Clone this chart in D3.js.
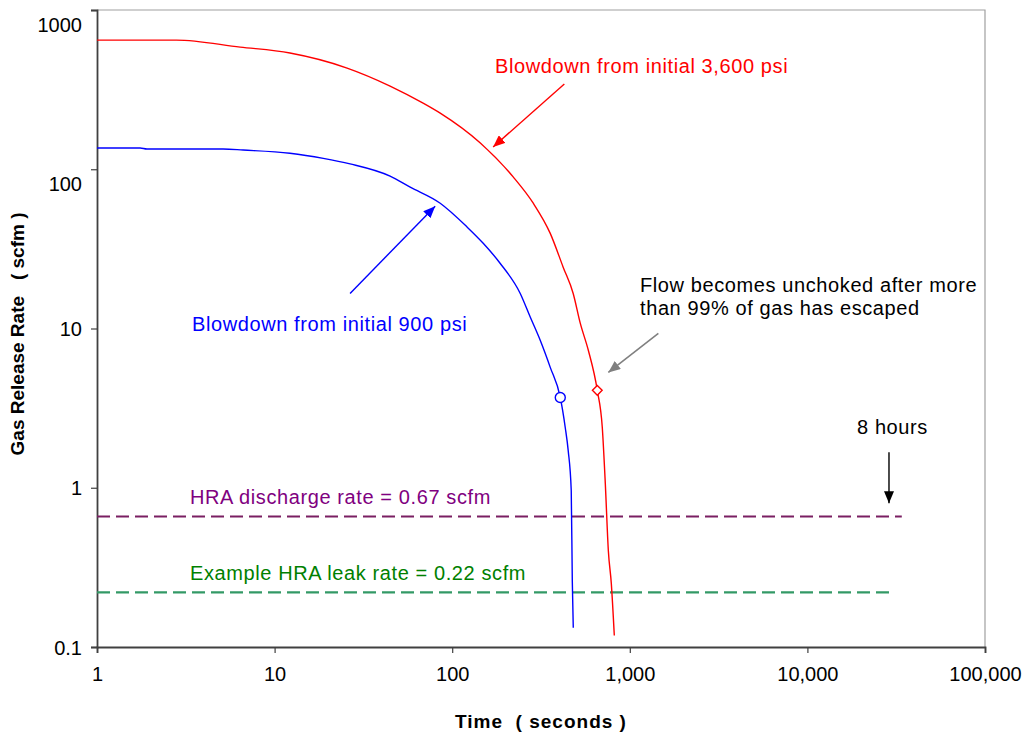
<!DOCTYPE html>
<html>
<head>
<meta charset="utf-8">
<script src="https://cdn.jsdelivr.net/npm/d3@7"></script>
<style>
  body { margin: 0; background: #fff; }
  svg { display: block; font-family: "Liberation Sans", Arial, sans-serif; }
</style>
</head>
<body>
<svg id="chart" width="1030" height="734"></svg>
<script>
// blowdown curves: time (s) and rate (scfm)
var redTime = [1, 2.8, 6.4, 12.2, 25.6, 44.7, 68.6, 85.6, 144, 221, 286, 356, 422, 480, 526, 584, 656, 700, 728, 757, 787, 818];
var redRate = [647, 647, 585, 537, 432, 333, 260, 225, 146, 89.2, 61.2, 39.7, 24.2, 16.6, 10.8, 7.3, 4.09, 2.39, 1.06, 0.404, 0.25, 0.118];

var blueTime = [1, 1.75, 1.91, 5.13, 6.65, 12.2, 18.8, 26.6, 44.7, 58, 85.6, 121.5, 149.5, 186, 241.6, 275, 313, 356.5, 406, 433, 450, 468, 474.5, 480.5];
var blueRate = [136, 136, 134, 134, 132, 126, 117, 108, 90.5, 77.2, 61.2, 43.3, 34.3, 25.7, 16.6, 11.8, 8.43, 5.7, 3.69, 2.39, 1.71, 0.96, 0.26, 0.132];

// points where flow becomes unchoked
var blueMarker = [406, 3.69];
var redMarker = [656, 4.09];

// reference rates (scfm) and the 8 hour mark (s)
var hraDischarge = 0.66;
var hraLeak = 0.22;
var eightHours = 28800;
var dischargeEnd = 34000;

var xTicks = [1, 10, 100, 1000, 10000, 100000];
var xTickLabels = ["1", "10", "100", "1,000", "10,000", "100,000"];
var yTicks = [0.1, 1, 10, 100, 1000];
var yTickLabels = ["0.1", "1", "10", "100", "1000"];

var svg = d3.select("#chart");
var mLeft = 97, mRight = 985, mTop = 10, mBottom = 647;

var x = d3.scaleLog().domain([1, 100000]).range([mLeft, mRight]);
var y = d3.scaleLog().domain([0.1, 1000]).range([mBottom, mTop]);

// arrow heads
var defs = svg.append("defs");
[["red", "#ff0000"], ["blue", "#0000ff"], ["gray", "#808080"], ["black", "#000000"]].forEach(function (c) {
  defs.append("marker")
    .attr("id", "arrow-" + c[0])
    .attr("viewBox", "0 0 12 10")
    .attr("refX", 12).attr("refY", 5)
    .attr("markerWidth", 12).attr("markerHeight", 10)
    .attr("markerUnits", "userSpaceOnUse")
    .attr("orient", "auto")
    .append("path")
    .attr("d", "M0,0 L12,5 L0,10 Z")
    .attr("fill", c[1]);
});

// frame: light top and right edges
svg.append("path")
  .attr("d", "M" + mLeft + "," + mTop + "H" + mRight + "V" + mBottom)
  .attr("fill", "none")
  .attr("stroke", "#a0a0a0")
  .attr("stroke-width", 1.2);

// axes
var xAxis = svg.append("g")
  .attr("transform", "translate(0," + mBottom + ")")
  .call(d3.axisBottom(x).tickValues(xTicks).tickSize(6).tickPadding(14)
    .tickFormat(function (d, i) { return xTickLabels[i]; }));

var yAxis = svg.append("g")
  .attr("transform", "translate(" + mLeft + ",0)")
  .call(d3.axisLeft(y).tickValues(yTicks).tickSize(6).tickPadding(9)
    .tickFormat(function (d, i) { return yTickLabels[i]; }));

[xAxis, yAxis].forEach(function (g) {
  g.select(".domain").attr("stroke", "#404040").attr("stroke-width", 1.8);
  g.selectAll(".tick line").attr("stroke", "#404040").attr("stroke-width", 1.2);
  g.selectAll(".tick text")
    .attr("fill", "#000")
    .style("font-family", "'Liberation Sans', Arial, sans-serif")
    .style("font-size", "20px");
});
// the two upper labels sit a little below their ticks in the original
yAxis.selectAll(".tick text").attr("dy", function (d) { return d >= 100 ? "1.05em" : "0.35em"; });

// axis titles
svg.append("text")
  .attr("x", 541).attr("y", 728)
  .attr("text-anchor", "middle")
  .style("font-weight", "bold")
  .style("font-size", "19px")
  .style("letter-spacing", "1px")
  .attr("xml:space", "preserve")
  .text("Time  ( seconds )");

svg.append("text")
  .attr("transform", "translate(24,334)rotate(-90)")
  .attr("text-anchor", "middle")
  .style("font-weight", "bold")
  .style("font-size", "19px")
  .attr("xml:space", "preserve")
  .text("Gas Release Rate   ( scfm )");

// reference lines
svg.append("line")
  .attr("x1", x(1)).attr("x2", x(dischargeEnd))
  .attr("y1", y(hraDischarge)).attr("y2", y(hraDischarge))
  .attr("stroke", "#7a1f62").attr("stroke-width", 2.2)
  .attr("stroke-dasharray", "13,6");

svg.append("line")
  .attr("x1", x(1)).attr("x2", x(eightHours))
  .attr("y1", y(hraLeak)).attr("y2", y(hraLeak))
  .attr("stroke", "#339966").attr("stroke-width", 2.2)
  .attr("stroke-dasharray", "13,6");

// curves
var line = d3.line()
  .curve(d3.curveMonotoneX)
  .x(function (d) { return x(d[0]); })
  .y(function (d) { return y(d[1]); });

svg.append("path")
  .datum(d3.zip(redTime, redRate))
  .attr("d", line)
  .attr("fill", "none")
  .attr("stroke", "#ff0000")
  .attr("stroke-width", 1.4);

svg.append("path")
  .datum(d3.zip(blueTime, blueRate))
  .attr("d", line)
  .attr("fill", "none")
  .attr("stroke", "#0000ff")
  .attr("stroke-width", 1.4);

// markers
svg.append("circle")
  .attr("cx", x(blueMarker[0])).attr("cy", y(blueMarker[1]))
  .attr("r", 5)
  .attr("fill", "#fff").attr("stroke", "#0000ff").attr("stroke-width", 1.4);

svg.append("path")
  .attr("transform", "translate(" + x(redMarker[0]) + "," + y(redMarker[1]) + ")")
  .attr("d", d3.symbol().type(d3.symbolDiamond2).size(60))
  .attr("fill", "#fff").attr("stroke", "#ff0000").attr("stroke-width", 1.4);

// annotation arrows [from time, from rate, to time, to rate]
var arrows = [
  { c: "red", p: [428, 343, 170, 138] },
  { c: "blue", p: [26.6, 16.6, 80.2, 58.6] },
  { c: "gray", p: [1448, 9.33, 757, 5.3] },
  { c: "black", p: [eightHours, 1.67, eightHours, 0.8] }
];
var arrowColor = { red: "#ff0000", blue: "#0000ff", gray: "#808080", black: "#000000" };
arrows.forEach(function (a) {
  svg.append("line")
    .attr("x1", x(a.p[0])).attr("y1", y(a.p[1]))
    .attr("x2", x(a.p[2])).attr("y2", y(a.p[3]))
    .attr("stroke", arrowColor[a.c])
    .attr("stroke-width", a.c === "gray" ? 1.6 : 1.4)
    .attr("marker-end", "url(#arrow-" + a.c + ")");
});

// annotation texts
var notes = [
  { t: "Blowdown from initial 3,600 psi", x: 495, y: 73, c: "#ff0000" },
  { t: "Blowdown from initial 900 psi", x: 192, y: 331, c: "#0000ff" },
  { t: "HRA discharge rate = 0.67 scfm", x: 190, y: 504, c: "#800080" },
  { t: "Example HRA leak rate = 0.22 scfm", x: 190, y: 580, c: "#008000" },
  { t: "Flow becomes unchoked after more", x: 640, y: 292, c: "#000" },
  { t: "than 99% of gas has escaped", x: 640, y: 315, c: "#000" },
  { t: "8 hours", x: 857, y: 434, c: "#000" }
];
svg.selectAll("text.note")
  .data(notes)
  .enter()
  .append("text")
  .attr("class", "note")
  .attr("x", function (d) { return d.x; })
  .attr("y", function (d) { return d.y; })
  .attr("fill", function (d) { return d.c; })
  .style("font-size", "20px")
  .style("letter-spacing", "0.6px")
  .text(function (d) { return d.t; });
</script>
</body>
</html>
